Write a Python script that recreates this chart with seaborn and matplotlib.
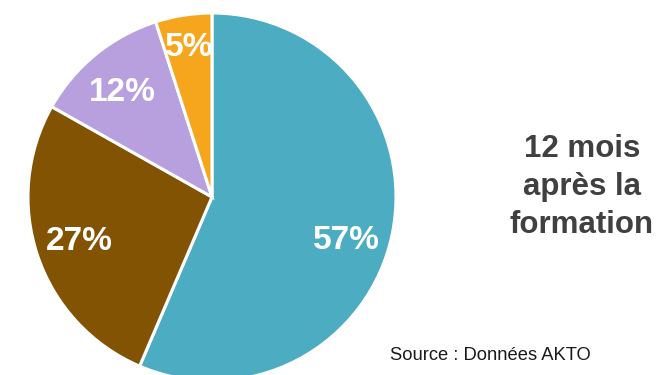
import numpy as np
import matplotlib
matplotlib.use("Agg")
import matplotlib.pyplot as plt
import seaborn as sns

# data
parts = ["Autre A", "Autre B", "Autre C", "Autre D"]
valeurs = [57, 27, 12, 5]
etiquettes = ["57%", "27%", "12%", "5%"]
couleurs = ["#4BACC2", "#835304", "#B89FDD", "#F6A61D"]

# label placement (fraction of radius, angle offset in degrees)
label_r = [0.77, 0.76, 0.75, 0.82]
label_shift = [-6.5, 0, 1.5, 0]

sns.set_theme(style="white")
plt.rcParams["font.family"] = ["Liberation Sans", "DejaVu Sans"]

W, H = 656, 375
fig = plt.figure(figsize=(W / 100, H / 100), dpi=100)
cx, cy, r = 212, 375 - 197, 184
ax = fig.add_axes([(cx - r) / W, (cy - r) / H, 2 * r / W, 2 * r / H])

wedges, _ = ax.pie(valeurs, colors=couleurs, startangle=90, counterclock=False,
                   radius=1, wedgeprops=dict(edgecolor="white", linewidth=2.2))
ax.set_xlim(-1, 1)
ax.set_ylim(-1, 1)
ax.set_aspect("equal")
ax.axis("off")

for w, lab, d, s in zip(wedges, etiquettes, label_r, label_shift):
    a = np.deg2rad((w.theta1 + w.theta2) / 2 + s)
    ax.text(d * np.cos(a), d * np.sin(a), lab, ha="center", va="center",
            color="white", fontsize=24, fontweight="bold")

fig.text(582 / W, 1 - 187 / H, "12 mois\naprès la\nformation", ha="center", va="center",
         fontsize=22.5, fontweight="bold", color="#404040", linespacing=1.33)
fig.text(390 / W, 1 - 356 / H, "Source : Données AKTO", ha="left", va="center",
         fontsize=13.2, color="#1a1a1a")

fig.savefig("out.png", dpi=100)
